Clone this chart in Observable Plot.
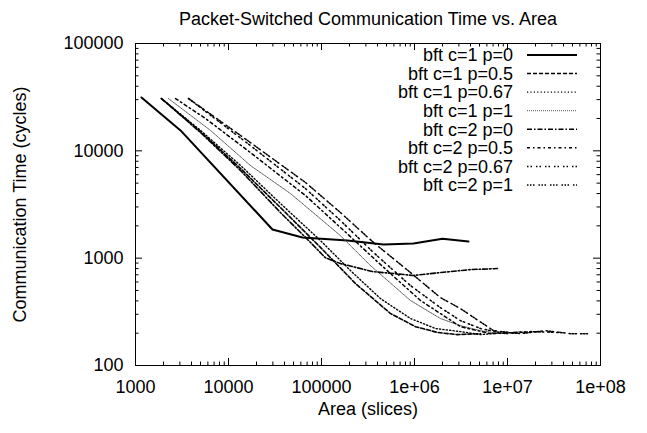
<!DOCTYPE html>
<html><head><meta charset="utf-8">
<script src="https://cdn.jsdelivr.net/npm/d3@7"></script>
<script src="https://cdn.jsdelivr.net/npm/@observablehq/plot@0.6"></script>
<style>
html,body{margin:0;padding:0;background:#fff;}
#chart svg{display:block;}
</style>
</head><body><div id="chart"></div>
<script>
const titleText = "Packet-Switched Communication Time vs. Area";
const xLabel = "Area (slices)";
const yLabel = "Communication Time (cycles)";
const seriesNames = ["bft c=1 p=0","bft c=1 p=0.5","bft c=1 p=0.67","bft c=1 p=1","bft c=2 p=0","bft c=2 p=0.5","bft c=2 p=0.67","bft c=2 p=1"];

const areaC1P0 = [1160, 3050, 29700, 62500, 190000, 464000, 975000, 2000000, 3810000];
const timeC1P0 = [31400, 15500, 1850, 1560, 1460, 1340, 1370, 1520, 1430];

const areaC1P05 = [1900, 5000, 13500, 36200, 97500, 232000, 552000, 1025000, 1770000, 2900000, 5120000];
const timeC1P05 = [30700, 15100, 6840, 2960, 1260, 580, 305, 230, 203, 194, 198];

const areaC1P067 = [1900, 5000, 13500, 36200, 97500, 205000, 431000, 906000, 1680000, 3120000, 5120000, 9520000];
const timeC1P067 = [30700, 15500, 7300, 3230, 1460, 766, 420, 274, 221, 207, 194, 203];

const areaC1P1 = [2260, 6400, 17200, 46400, 160000, 336000, 906000, 1900000, 3120000, 5120000, 8400000, 13800000];
const timeC1P1 = [30700, 15500, 7300, 4000, 1620, 853, 403, 274, 235, 211, 198, 207];

const areaC2P0 = [1900, 5000, 13500, 36200, 76200, 110000, 160000, 353000, 975000, 1900000, 4000000, 7800000];
const timeC2P0 = [30700, 14800, 6550, 2660, 1400, 1010, 890, 750, 690, 734, 783, 800];

const areaC2P05 = [2690, 5660, 17200, 67300, 160000, 431000, 1160000, 3120000, 6570000, 12200000, 22600000];
const timeC2P05 = [30700, 20000, 9640, 3830, 1930, 872, 403, 230, 198, 203, 207];

const areaC2P067 = [3720, 15600, 67300, 160000, 362000, 906000, 1900000, 3120000, 5120000, 9520000, 17700000, 37100000];
const timeC2P067 = [30700, 11950, 4450, 2240, 1130, 555, 346, 262, 221, 198, 207, 203];

const areaC2P1 = [3720, 15600, 67300, 160000, 362000, 906000, 1900000, 3120000, 7070000, 13800000, 25600000, 47600000, 72500000];
const timeC2P1 = [30700, 12700, 5070, 2660, 1400, 734, 429, 339, 211, 198, 211, 198, 198];

const xMajor = [1e3, 1e4, 1e5, 1e6, 1e7, 1e8];
const xTickLabels = ["1000", "10000", "100000", "1e+06", "1e+07", "1e+08"];
const yMajor = [1e2, 1e3, 1e4, 1e5];
const yTickLabels = ["100", "1000", "10000", "100000"];

const areas = [areaC1P0, areaC1P05, areaC1P067, areaC1P1, areaC2P0, areaC2P05, areaC2P067, areaC2P1];
const times = [timeC1P0, timeC1P05, timeC1P067, timeC1P1, timeC2P0, timeC2P05, timeC2P067, timeC2P1];

const styles = [
  {w: 2, dash: null, color: "#000"},
  {w: 1.6, dash: "4,2", color: "#000"},
  {w: 1.4, dash: "1.2,2.2", color: "#000"},
  {w: 1, dash: "1,1", color: "#555"},
  {w: 1.6, dash: "5,2,1.5,2", color: "#000"},
  {w: 1.5, dash: "3,3,1.5,3", color: "#000"},
  {w: 1.5, dash: "1.5,2,1.5,4", color: "#000"},
  {w: 1.5, dash: "1.5,1.5,1.5,1.5,1.5,4", color: "#000"}
];

const minorTicks = (majors) => {
  const out = [];
  for (let i = 0; i < majors.length - 1; i++) for (let m = 2; m <= 9; m++) out.push(majors[i] * m);
  return out;
};
const xMinor = minorTicks(xMajor);
const yMinor = minorTicks(yMajor);

const W = 647, H = 433, ML = 135, MR = 47, MT = 43, MB = 68;
const PW = W - ML - MR, PH = H - MT - MB;
const majLen = 7, minLen = 3.5;
const font = "'Liberation Sans', Arial, Helvetica, sans-serif";
const fs = 18;

const lineMarks = seriesNames.map((name, i) => {
  const rows = areas[i].map((a, j) => ({series: name, area: a, time: times[i][j]}));
  const s = styles[i];
  return Plot.line(rows, {x: "area", y: "time", stroke: s.color, strokeWidth: s.w, strokeDasharray: s.dash ?? undefined, strokeLinejoin: "miter"});
});

function legend(index, scales, values, dims) {
  const g = d3.create("svg:g").attr("font-family", font).attr("font-size", fs);
  const right = dims.width - dims.marginRight;
  seriesNames.forEach((name, i) => {
    const y = dims.marginTop + 12 + i * 18.57;
    g.append("text").attr("x", right - 87).attr("y", y).attr("dy", "0.35em")
      .attr("text-anchor", "end").attr("fill", "#000").text(name);
    const s = styles[i];
    const ln = g.append("line").attr("x1", right - 73).attr("x2", right - 23)
      .attr("y1", y).attr("y2", y).attr("stroke", s.color).attr("stroke-width", s.w);
    if (s.dash) ln.attr("stroke-dasharray", s.dash);
  });
  return g.node();
}

const chart = Plot.plot({
  width: W, height: H,
  marginLeft: ML, marginRight: MR, marginTop: MT, marginBottom: MB,
  style: {fontFamily: font, fontSize: fs + "px", background: "#fff", color: "#000"},
  x: {type: "log", domain: [1e3, 1e8]},
  y: {type: "log", domain: [100, 1e5]},
  marks: [
    ...lineMarks,
    Plot.ruleX(xMajor, {x: d => d, insetTop: PH - majLen, stroke: "#000"}),
    Plot.ruleX(xMajor, {x: d => d, insetBottom: PH - majLen, stroke: "#000"}),
    Plot.ruleX(xMinor, {x: d => d, insetTop: PH - minLen, stroke: "#000"}),
    Plot.ruleX(xMinor, {x: d => d, insetBottom: PH - minLen, stroke: "#000"}),
    Plot.ruleY(yMajor, {y: d => d, insetRight: PW - majLen, stroke: "#000"}),
    Plot.ruleY(yMajor, {y: d => d, insetLeft: PW - majLen, stroke: "#000"}),
    Plot.ruleY(yMinor, {y: d => d, insetRight: PW - minLen, stroke: "#000"}),
    Plot.ruleY(yMinor, {y: d => d, insetLeft: PW - minLen, stroke: "#000"}),
    Plot.axisX(xMajor, {tickSize: 0, tickPadding: 15, tickFormat: (d) => xTickLabels[xMajor.indexOf(d)], label: null, fill: "#000"}),
    Plot.axisY(yMajor, {tickSize: 0, tickPadding: 12, tickFormat: (d) => yTickLabels[yMajor.indexOf(d)], label: null, fill: "#000"}),
    Plot.frame({stroke: "#000", strokeWidth: 1}),
    Plot.text([xLabel], {text: d => d, frameAnchor: "bottom", dy: 49, fill: "#000"}),
    Plot.text([yLabel], {text: d => d, frameAnchor: "left", textAnchor: "middle", dx: -115, rotate: -90, fill: "#000"}),
    Plot.text([titleText], {text: d => d, frameAnchor: "top", dy: -31, fill: "#000"}),
    legend
  ]
});
document.getElementById("chart").appendChild(chart);
</script>
</body></html>
